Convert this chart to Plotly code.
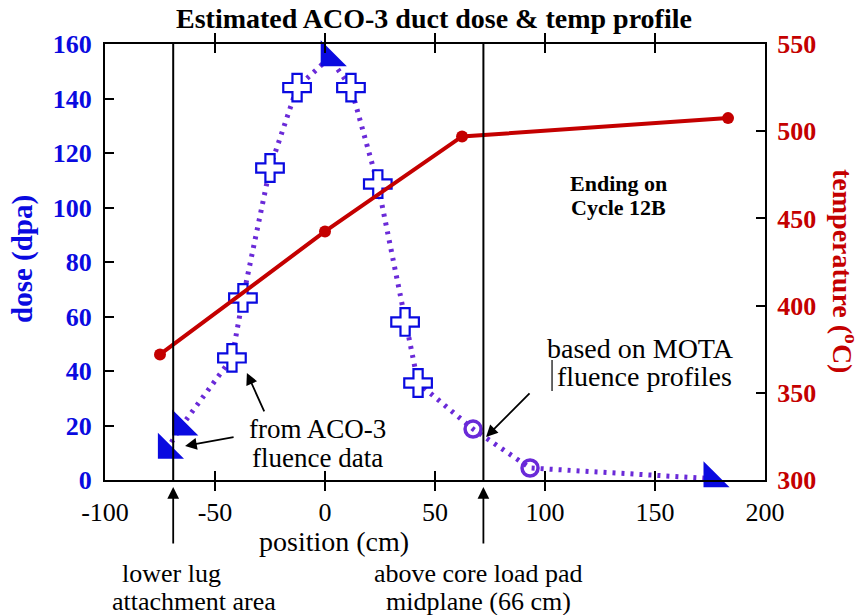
import plotly.graph_objects as go

# ---- data -------------------------------------------------------------
# duct dose from ACO-3 fluence data / peak estimate (triangles)
tri_pos = [-72, -65.5, 2, 176]
tri_dose = [11, 19.5, 155, 0.5]
# duct dose points (open crosses)
cross_pos = [-42.3, -37.3, -25, -12.7, 11.8, 24, 36.4, 42.3]
cross_dose = [44.8, 66.8, 114.5, 144, 144, 108.6, 58, 35.6]
# duct dose from MOTA fluence profiles (open circles)
circ_pos = [67.3, 93.2]
circ_dose = [18.7, 4.4]

# duct temperature profile
temp_pos = [-75, 0, 62.3, 183.2]
temp_val = [372, 442.5, 497, 507.5]

# reference positions (lower lug, above core load pad)
ref_pos = [-69, 72]

x_ticks = [-100, -50, 0, 50, 100, 150, 200]
x_tick_text = ["-100", "-50", "0", "50", "100", "150", "200"]
dose_ticks = [0, 20, 40, 60, 80, 100, 120, 140, 160]
temp_ticks = [300, 350, 400, 450, 500, 550]

# ---- styling ----------------------------------------------------------
SERIF = "Liberation Serif"
BLUE = "#0a0ae0"
PURPLE = "#6a2ad8"
RED = "#c40000"

# plot area in pixels
W, H = 861, 615
L, R, T, B = 105, 96, 44, 135
PW, PH = W - L - R, H - T - B


def px(xp):
    return (xp - L) / PW


def py(yp):
    return (T + PH - yp) / PH


# the dotted dose profile runs through every dose point in order of position
all_pts = sorted(zip(tri_pos + cross_pos + circ_pos,
                     tri_dose + cross_dose + circ_dose))
line_pos = [p for p, _ in all_pts]
line_dose = [d for _, d in all_pts]

fig = go.Figure()

fig.add_trace(go.Scatter(
    x=temp_pos, y=temp_val, yaxis="y2", mode="lines+markers",
    line=dict(color=RED, width=4),
    marker=dict(color=RED, size=12),
    cliponaxis=False, showlegend=False))

fig.add_trace(go.Scatter(
    x=line_pos, y=line_dose, mode="lines",
    line=dict(color=PURPLE, width=5, dash="3px,6px"),
    showlegend=False))

fig.add_trace(go.Scatter(
    x=circ_pos, y=circ_dose, mode="markers",
    marker=dict(symbol="circle-open", size=16, color=PURPLE,
                line=dict(width=3.5, color=PURPLE)),
    showlegend=False))

fig.add_trace(go.Scatter(
    x=cross_pos, y=cross_dose, mode="markers",
    marker=dict(symbol="cross", size=23, color="white",
                line=dict(width=2.2, color=BLUE)),
    showlegend=False))

fig.add_trace(go.Scatter(
    x=tri_pos, y=tri_dose, mode="markers",
    marker=dict(symbol="triangle-sw", size=29, color=BLUE,
                line=dict(width=0)),
    cliponaxis=False, showlegend=False))

# vertical reference lines through the plot
shapes = []
for xp in ref_pos:
    shapes.append(dict(type="line", xref="x", yref="paper", x0=xp, x1=xp,
                       y0=0, y1=1, line=dict(color="black", width=2)))
# small bar beside the MOTA label
shapes.append(dict(type="line", xref="x", yref="y", x0=103.2, x1=103.2,
                   y0=32.7, y1=44, line=dict(color="black", width=1.2)))

ann = []


def text(s, xp, yp, size, color="black", bold=False, xanchor="center",
         angle=0):
    ann.append(dict(text=s, xref="paper", yref="paper", x=px(xp), y=py(yp),
                    xanchor=xanchor, yanchor="middle", showarrow=False,
                    textangle=angle,
                    font=dict(family=SERIF, size=size, color=color,
                              weight="bold" if bold else "normal")))


def arrow(x, y, ax, ay, yref="y"):
    ann.append(dict(text="", x=x, y=y, xref="x", yref=yref, ax=ax, ay=ay,
                    axref="pixel", ayref="pixel", showarrow=True,
                    arrowhead=2, arrowsize=1.3, arrowwidth=1.8,
                    arrowcolor="black"))


text("Estimated ACO-3 duct dose &amp; temp profile", 434, 18, 28, bold=True)
text("dose (dpa)", 22, 259, 29, color=BLUE, bold=True, angle=-90)
text("temperature (<sup>o</sup>C)", 845, 271, 28, color=RED, bold=True,
     angle=90)
text("position (cm)", 334, 541, 28)
text("Ending on", 618, 184, 22, bold=True)
text("Cycle 12B", 618, 208, 22, bold=True)
text("from ACO-3", 317, 429, 27)
text("fluence data", 317, 458, 27)
text("based on MOTA", 545, 348, 28, xanchor="left")
text("fluence profiles", 555, 376, 28, xanchor="left")
text("lower lug", 171, 573, 26)
text("attachment area", 194, 601, 26)
text("above core load pad", 478, 573, 26)
text("midplane (66 cm)", 478, 601, 26)

# arrows pointing at the ACO-3 and MOTA points
arrow(-35.5, 39.3, 18, 40)
arrow(-63.6, 12.5, 50, -9)
arrow(73.2, 15.8, 45, -45)
# arrows under the axis marking the reference positions
for xp in ref_pos:
    arrow(xp, py(487), 0, 58, yref="paper")

fig.update_layout(
    width=W, height=H,
    margin=dict(l=L, r=R, t=T, b=B),
    paper_bgcolor="white", plot_bgcolor="white",
    shapes=shapes, annotations=ann,
    xaxis=dict(range=[-100, 200], tickvals=x_ticks, ticktext=x_tick_text,
               ticks="inside", ticklen=9, tickwidth=2, tickcolor="black",
               showline=True, linewidth=2, linecolor="black",
               mirror="allticks", showgrid=False, zeroline=False,
               ticklabelstandoff=8,
               tickfont=dict(family=SERIF, size=26, color="black")),
    yaxis=dict(range=[0, 160], tickvals=dose_ticks, ticks="inside",
               ticklen=9, tickwidth=2, tickcolor="black",
               showline=True, linewidth=2, linecolor="black",
               showgrid=False, zeroline=False, ticklabelstandoff=6,
               tickfont=dict(family=SERIF, size=26, color=BLUE,
                             weight="bold")),
    yaxis2=dict(range=[300, 550], tickvals=temp_ticks, overlaying="y",
                side="right", ticks="inside", ticklen=9, tickwidth=2,
                tickcolor="black", showline=True, linewidth=2,
                linecolor="black", showgrid=False, zeroline=False,
                ticklabelstandoff=5,
                tickfont=dict(family=SERIF, size=26, color=RED,
                              weight="bold")),
)

fig.write_html("out.html")
